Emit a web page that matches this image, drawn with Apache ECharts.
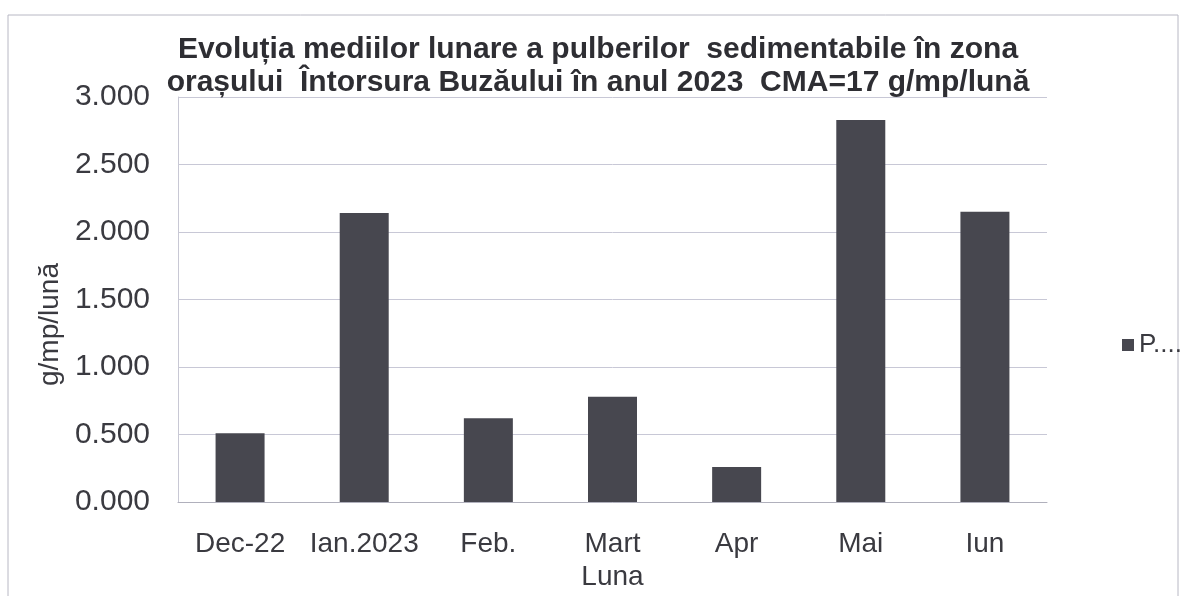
<!DOCTYPE html>
<html>
<head>
<meta charset="utf-8">
<script src="https://cdn.jsdelivr.net/npm/echarts@6/dist/echarts.min.js"></script>
<style>
html,body{margin:0;padding:0;background:#fff;}
#chart{width:1181px;height:596px;}
</style>
</head>
<body>
<div id="chart"></div>
<script>
var categories = ['Dec-22', 'Ian.2023', 'Feb.', 'Mart', 'Apr', 'Mai', 'Iun'];
var values = [0.51, 2.14, 0.62, 0.78, 0.26, 2.83, 2.15];
var seriesName = 'P....';
var titleText = 'Evoluția mediilor lunare a pulberilor  sedimentabile în zona\norașului  Întorsura Buzăului în anul 2023  CMA=17 g/mp/lună';
var yAxisName = 'g/mp/lună';
var xAxisName = 'Luna';

var chart = echarts.init(document.getElementById('chart'));
chart.setOption({
  backgroundColor: '#ffffff',
  animation: false,
  graphic: [{
    type: 'rect',
    shape: { x: 8, y: 15, width: 1170, height: 600 },
    style: { fill: 'none', stroke: '#b8b8c4', lineWidth: 1 },
    silent: true,
    z: -1
  }],
  title: {
    text: titleText,
    left: 598,
    textAlign: 'center',
    top: 33,
    padding: 0,
    textStyle: {
      fontFamily: 'Liberation Sans',
      fontSize: 30,
      fontWeight: 'bold',
      color: '#2e2e33',
      lineHeight: 33
    }
  },
  legend: {
    data: [seriesName],
    left: 1117,
    top: 327,
    orient: 'vertical',
    icon: 'rect',
    itemWidth: 12,
    itemHeight: 12,
    itemGap: 6,
    textStyle: { fontFamily: 'Liberation Sans', fontSize: 26, color: '#3a3a40' }
  },
  grid: { left: 178, right: 134, top: 97, bottom: 86 },
  xAxis: {
    type: 'category',
    data: categories,
    name: xAxisName,
    nameLocation: 'middle',
    nameGap: 61,
    nameTextStyle: { fontFamily: 'Liberation Sans', fontSize: 28, color: '#3a3a40' },
    axisLine: { show: true, lineStyle: { color: '#b0b0bc', width: 1 } },
    axisTick: { show: false },
    axisLabel: { fontFamily: 'Liberation Sans', fontSize: 28, color: '#3a3a40', margin: 28, interval: 0 }
  },
  yAxis: {
    type: 'value',
    min: 0,
    max: 3,
    interval: 0.5,
    name: yAxisName,
    nameLocation: 'middle',
    nameGap: 110,
    nameRotate: 90,
    nameTextStyle: { fontFamily: 'Liberation Sans', fontSize: 28, color: '#3a3a40', padding: [0, 50, 0, 0] },
    axisLine: { show: true, lineStyle: { color: '#c8c8d4', width: 1 } },
    axisTick: { show: false },
    axisLabel: {
      fontFamily: 'Liberation Sans', fontSize: 30, color: '#3a3a40', margin: 28,
      formatter: function (v) { return v.toFixed(3); }
    },
    splitLine: { show: true, lineStyle: { color: '#c8c8d6', width: 1 } }
  },
  series: [{
    name: seriesName,
    type: 'bar',
    data: values,
    barWidth: 49,
    itemStyle: { color: '#47474f' }
  }]
});
</script>
</body>
</html>
